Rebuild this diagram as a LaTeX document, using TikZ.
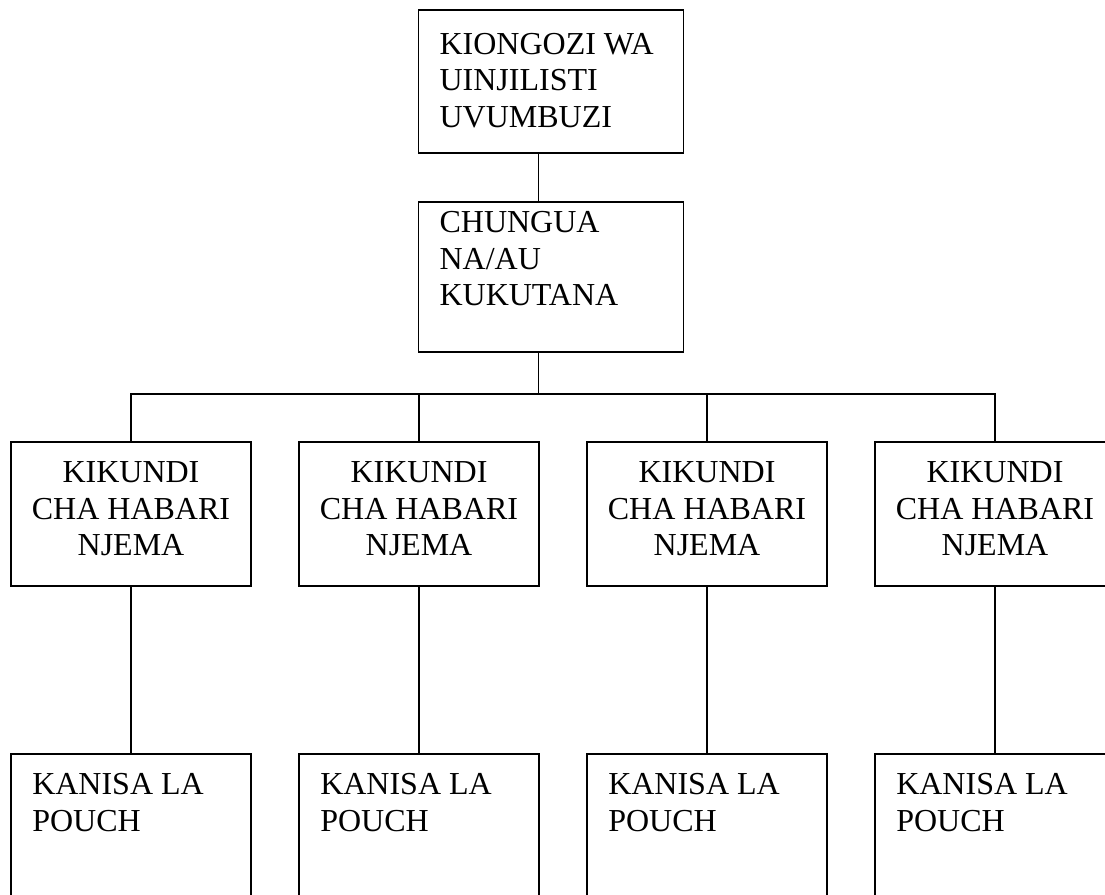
\documentclass[tikz,border=0pt]{standalone}
\usepackage{fontspec}
\setmainfont{Liberation Serif}
\begin{document}
\begin{tikzpicture}[x=0.75pt,y=-0.75pt]
\tikzset{
  box/.style={draw, line width=1pt, rectangle, outer sep=0pt, inner sep=0pt, anchor=north west, minimum width=180pt, minimum height=108pt},
  lbl/.style={inner sep=0pt, font=\fontsize{24}{27.6}\selectfont},
  conn/.style={line width=1pt}
}
\useasboundingbox (0,0) rectangle (1105,894);
\clip (0,0) rectangle (1105,894);
% top boxes
\node[box, minimum width=198.75pt, minimum height=107.25pt] (top) at (418.7,10) {};
\node[box, minimum width=198.75pt, minimum height=112.5pt] (ch) at (418.7,202) {};
% middle row
\node[box] (m1) at (11,442) {};
\node[box] (m2) at (299,442) {};
\node[box] (m3) at (587,442) {};
\node[box] (m4) at (875,442) {};
% bottom row
\node[box, minimum height=124.5pt] (b1) at (11,754) {};
\node[box, minimum height=124.5pt] (b2) at (299,754) {};
\node[box, minimum height=124.5pt] (b3) at (587,754) {};
\node[box, minimum height=124.5pt] (b4) at (875,754) {};
% texts
\node[lbl, anchor=base west] (ttop) at (439.3,54) {\begin{tabular}[t]{@{}l@{}}KIONGOZI WA\\UINJILISTI\\UVUMBUZI\end{tabular}};
\node[lbl, anchor=base west] (tch) at (439.3,232.3) {\begin{tabular}[t]{@{}l@{}}CHUNGUA\\NA/AU\\KUKUTANA\end{tabular}};
\foreach \i/\cx in {1/131,2/419,3/707,4/995}{
  \node[lbl, anchor=base] (tm\i) at (\cx,482.3) {\begin{tabular}[t]{@{}c@{}}KIKUNDI\\CHA HABARI\\NJEMA\end{tabular}};
}
\foreach \i/\lx in {1/32,2/320,3/608,4/896}{
  \node[lbl, anchor=base west] (tb\i) at (\lx,794.3) {\begin{tabular}[t]{@{}l@{}}KANISA LA\\POUCH\end{tabular}};
}
% connectors
\coordinate (spine) at (538.3,0);
\coordinate (bus) at (538.3,394);
\draw[conn] (top.south -| spine) -- (ch.north -| spine);
\draw[conn] (ch.south -| spine) -- (bus);
\foreach \i in {1,2,3,4}{
  \draw[conn] (m\i.north) |- (bus);
  \draw[conn] (m\i.south) -- (b\i.north);
}
\end{tikzpicture}
\end{document}
